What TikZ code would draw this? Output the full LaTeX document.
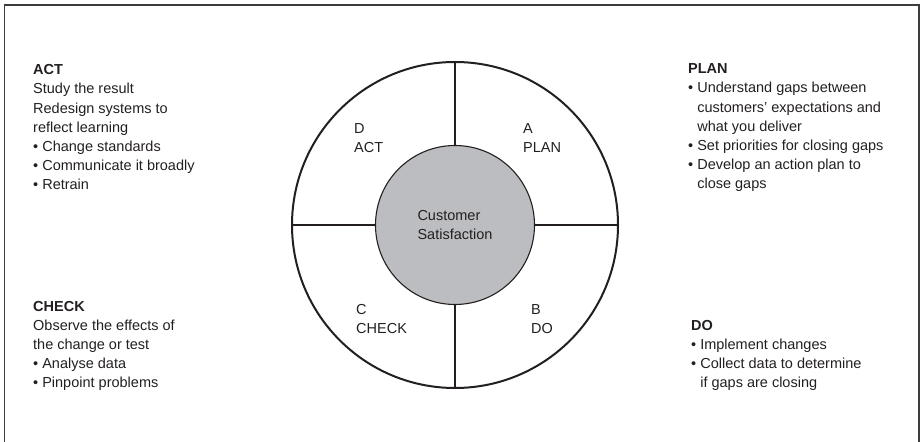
\documentclass[tikz,border=0pt]{standalone}
\usepackage{fontspec}
\setmainfont{Liberation Sans}
\usepackage{tikz}
\usetikzlibrary{positioning}

\definecolor{ink}{RGB}{35,31,32}
\definecolor{hubgray}{RGB}{188,189,192}
\definecolor{framegray}{RGB}{60,60,60}

\newcommand{\pt}{\textbullet\ }
\newcommand{\ind}{\phantom{\textbullet\ }}

\begin{document}
\begin{tikzpicture}[x=1pt, y=1pt,
    txt/.style={align=left, inner sep=0pt, text=ink, font=\fontsize{14.5}{19.2}\selectfont},
    notes/.style={txt, anchor=base west},
    quad/.style={txt, anchor=base west},
    spoke/.style={draw=ink, line width=2pt}]
    \useasboundingbox (0,0) rectangle (922,442);
    % frame, open at the bottom
    \draw[framegray, line width=1.5pt] (4.5,-10) rectangle (919,437);

    % the wheel and its hub
    \node[circle, draw=ink, line width=2pt, minimum size=326pt, inner sep=0pt] (wheel) at (455,217) {};
    \node[circle, draw=ink, fill=hubgray, line width=1.1pt, minimum size=159pt, inner sep=0pt, txt] (hub) at (wheel.center) {Customer\\Satisfaction};
    \draw[spoke] (hub.north) -- (wheel.north);
    \draw[spoke] (hub.east) -- (wheel.east);
    \draw[spoke] (hub.south) -- (wheel.south);
    \draw[spoke] (hub.west) -- (wheel.west);

    % quadrant labels (base = last line)
    \node[quad] (qact) at (354,289) {D\\ACT};
    \node[quad] (qplan) at (523,289) {A\\PLAN};
    \node[quad] (qcheck) at (356,108) {C\\CHECK};
    \node[quad] (qdo) at (531,108) {B\\DO};

    % notes on each step
    \node[notes] (act) at (33,252) {\textbf{ACT}\\
        Study the result\\
        Redesign systems to\\
        reflect learning\\
        \pt Change standards\\
        \pt Communicate it broadly\\
        \pt Retrain};
    \node[notes] (plan) at (688,253) {\textbf{PLAN}\\
        \pt Understand gaps between\\
        \ind customers’ expectations and\\
        \ind what you deliver\\
        \pt Set priorities for closing gaps\\
        \pt Develop an action plan to\\
        \ind close gaps};
    \node[notes] (check) at (33,54) {\textbf{CHECK}\\
        Observe the effects of\\
        the change or test\\
        \pt Analyse data\\
        \pt Pinpoint problems};
    \node[notes] (do) at (691,54) {\textbf{DO}\\
        \pt Implement changes\\
        \pt Collect data to determine\\
        \ind if gaps are closing};
\end{tikzpicture}
\end{document}
